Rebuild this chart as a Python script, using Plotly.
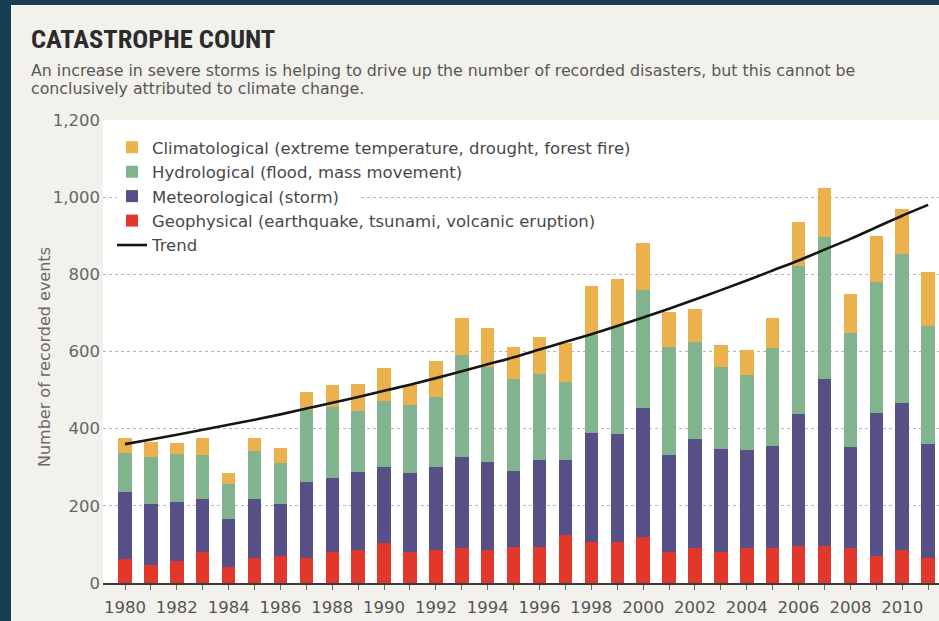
import plotly.graph_objects as go

years = [1980, 1981, 1982, 1983, 1984, 1985, 1986, 1987, 1988, 1989,
         1990, 1991, 1992, 1993, 1994, 1995, 1996, 1997, 1998, 1999,
         2000, 2001, 2002, 2003, 2004, 2005, 2006, 2007, 2008, 2009,
         2010, 2011]
year_labels = ["1980", "", "1982", "", "1984", "", "1986", "", "1988", "",
               "1990", "", "1992", "", "1994", "", "1996", "", "1998", "",
               "2000", "", "2002", "", "2004", "", "2006", "", "2008", "",
               "2010", ""]

geophysical = [61, 47, 57, 81, 42, 66, 70, 66, 80, 85,
               103, 81, 85, 90, 85, 94, 94, 124, 105, 105,
               120, 81, 90, 81, 90, 90, 96, 97, 90, 70,
               85, 66]
meteorological = [176, 158, 152, 138, 124, 153, 135, 195, 193, 203,
                  197, 203, 216, 236, 228, 197, 226, 196, 283, 281,
                  334, 251, 283, 266, 255, 266, 341, 431, 262, 370,
                  382, 293]
hydrological = [99, 122, 125, 113, 90, 124, 107, 187, 184, 158,
                172, 177, 182, 266, 247, 239, 221, 200, 254, 278,
                305, 279, 252, 213, 194, 252, 384, 368, 296, 339,
                387, 307]
climatological = [39, 39, 28, 45, 28, 32, 37, 48, 56, 70,
                  84, 52, 92, 94, 101, 82, 97, 101, 128, 123,
                  121, 92, 84, 57, 65, 78, 115, 129, 101, 121,
                  115, 140]
trend = [360, 372, 384, 397, 410, 423, 437, 452, 467, 482,
         498, 514, 531, 549, 567, 585, 605, 625, 645, 666,
         688, 711, 735, 759, 784, 810, 836, 864, 892, 922,
         952, 980]

y_ticks = [0, 200, 400, 600, 800, 1000, 1200]
y_tick_labels = ["0", "200", "400", "600", "800", "1,000", "1,200"]

series_names = [
    "Geophysical (earthquake, tsunami, volcanic eruption)",
    "Meteorological (storm)",
    "Hydrological (flood, mass movement)",
    "Climatological (extreme temperature, drought, forest fire)",
]
series_colors = ["#e2382b", "#565086", "#80b38e", "#eab14d"]
series_values = [geophysical, meteorological, hydrological, climatological]
legend_ranks = [4, 3, 2, 1]

W, H = 939, 621
ML, MR, MT, MB = 103, 0, 120, 38
PW, PH = W - ML - MR, H - MT - MB


def px_x(p):
    return (p - ML) / PW


def px_y(p):
    return (H - MB - p) / PH


fig = go.Figure()
for name, color, vals, rank in zip(series_names, series_colors, series_values, legend_ranks):
    fig.add_trace(go.Bar(x=years, y=vals, name=name, marker_color=color,
                         marker_line_width=0, legendrank=rank))

fig.add_trace(go.Scatter(x=years, y=trend, name="Trend", mode="lines",
                         line=dict(color="#151515", width=2.6, shape="spline"),
                         legendrank=5))

FONT = "DejaVu Sans, Open Sans, sans-serif"
TITLE_FONT = "Roboto Condensed, Liberation Sans Narrow, DejaVu Sans Condensed, sans-serif"
dark = "#173d51"

shapes = [
    dict(type="rect", xref="paper", yref="paper", x0=px_x(0), x1=px_x(11),
         y0=px_y(H), y1=px_y(0), fillcolor=dark, line_width=0, layer="above"),
    dict(type="rect", xref="paper", yref="paper", x0=px_x(0), x1=px_x(W),
         y0=px_y(5), y1=px_y(0), fillcolor=dark, line_width=0, layer="above"),
    dict(type="rect", xref="paper", yref="paper", x0=px_x(117), x1=px_x(358),
         y0=px_y(207), y1=px_y(189), fillcolor="white", line_width=0, layer="above"),
]

annotations = [
    dict(text="<b>CATASTROPHE COUNT</b>", xref="paper", yref="paper",
         x=px_x(29), y=px_y(38), xanchor="left", yanchor="middle", showarrow=False,
         font=dict(family=TITLE_FONT, size=26.5, color="#2b2b2b")),
    dict(text="An increase in severe storms is helping to drive up the number of recorded disasters, but this cannot be",
         xref="paper", yref="paper", x=px_x(29), y=px_y(71), xanchor="left", yanchor="middle",
         align="left", showarrow=False, font=dict(family=FONT, size=15.8, color="#575757")),
    dict(text="conclusively attributed to climate change.",
         xref="paper", yref="paper", x=px_x(29), y=px_y(89), xanchor="left", yanchor="middle",
         align="left", showarrow=False, font=dict(family=FONT, size=15.8, color="#575757")),
    dict(text="Number of recorded events", xref="paper", yref="paper", textangle=-90,
         x=px_x(44), y=px_y(357), xanchor="center", yanchor="middle", showarrow=False,
         font=dict(family=FONT, size=16, color="#6a6a6a")),
]

fig.update_layout(
    width=W, height=H,
    margin=dict(l=ML, r=MR, t=MT, b=MB, pad=0),
    paper_bgcolor="#f2f1ec",
    plot_bgcolor="white",
    barmode="stack",
    bargap=0.48,
    font=dict(family=FONT, size=16, color="#444444"),
    showlegend=True,
    legend=dict(x=px_x(112), y=px_y(130), xanchor="left", yanchor="top",
                bgcolor="rgba(0,0,0,0)", borderwidth=0, traceorder="normal",
                font=dict(family=FONT, size=16.5, color="#484848")),
    shapes=shapes,
    annotations=annotations,
)

fig.update_xaxes(range=[1979.15, 2011.42], tickmode="array", tickvals=years, ticktext=year_labels,
                 showline=True, linecolor="#3a3a3a", linewidth=2, ticks="outside", ticklen=5,
                 tickcolor="#666666", tickwidth=1, showgrid=False, zeroline=False,
                 tickfont=dict(family=FONT, size=16.5, color="#555555"), ticklabelstandoff=3)
fig.update_yaxes(range=[0, 1200], tickmode="array", tickvals=y_ticks, ticktext=y_tick_labels,
                 showgrid=True, gridcolor="#b5b5b5", gridwidth=1, griddash="dot",
                 zeroline=False, showline=False, ticks="",
                 tickfont=dict(family=FONT, size=16.5, color="#666666"), ticklabelstandoff=2)

fig.write_html("out.html")
